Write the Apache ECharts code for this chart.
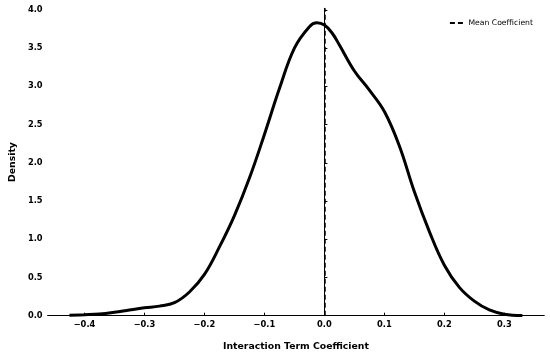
<!DOCTYPE html>
<html><head><meta charset="utf-8">
<script src="https://cdn.jsdelivr.net/npm/echarts@6/dist/echarts.min.js"></script>
<style>html,body{margin:0;padding:0;background:#fff}#c{width:550px;height:356px}</style>
</head><body><div id="c"></div>
<script>
const kdeX = [-0.425,-0.40,-0.375,-0.35,-0.325,-0.30,-0.275,-0.25,-0.225,-0.20,-0.175,-0.15,-0.125,-0.10,-0.075,-0.05,-0.025,-0.0125,0.0,0.0125,0.025,0.05,0.075,0.10,0.125,0.15,0.175,0.20,0.225,0.25,0.275,0.30,0.33];
const kdeY = [0.005,0.012,0.022,0.045,0.075,0.103,0.125,0.17,0.31,0.54,0.90,1.31,1.80,2.37,2.97,3.50,3.78,3.83,3.80,3.70,3.54,3.20,2.95,2.67,2.22,1.62,1.10,0.66,0.37,0.19,0.075,0.02,0.003];
const meanCoef = 0.001;
const xTicks = [-0.4,-0.3,-0.2,-0.1,0.0,0.1,0.2,0.3];
const yTicks = [0.0,0.5,1.0,1.5,2.0,2.5,3.0,3.5,4.0];
const xRange = [-0.4615, 0.3666];
const yRange = [0, 4.02];

const chart = echarts.init(document.getElementById('c'));
const font = 'DejaVu Sans';
chart.setOption({
  animation: false,
  grid: {left: 43.3, right: 5.7, top: 8.3, bottom: 40.3},
  legend: {
    right: 12, top: 14,
    icon: 'path://M0,0h5v2h-5z M8,0h5v2h-5z',
    itemWidth: 14, itemHeight: 2, itemGap: 8,
    textStyle: {fontFamily: font, fontSize: 7.7, color: '#000'},
    data: [{name: 'Mean Coefficient'}]
  },
  xAxis: {
    type: 'value', min: xRange[0], max: xRange[1],
    name: 'Interaction Term Coefficient', nameLocation: 'middle', nameGap: 26,
    nameTextStyle: {fontFamily: font, fontSize: 9.3, fontWeight: 'bold', color: '#000'},
    splitLine: {show: false},
    axisLine: {onZero: false, lineStyle: {color: '#000', width: 1}},
    axisTick: {inside: true, length: 3, lineStyle: {color: '#000'}, customValues: xTicks},
    axisLabel: {fontFamily: font, fontSize: 8.3, fontWeight: 'bold', color: '#000', margin: 5,
      customValues: xTicks,
      formatter: v => (v < 0 ? '\u2212' : '') + Math.abs(v).toFixed(1)}
  },
  yAxis: {
    type: 'value', min: yRange[0], max: yRange[1],
    name: 'Density', nameLocation: 'middle', nameGap: 30,
    nameTextStyle: {fontFamily: font, fontSize: 9.3, fontWeight: 'bold', color: '#000'},
    splitLine: {show: false},
    axisLine: {show: true, lineStyle: {color: '#000', width: 1}},
    axisTick: {show: true, inside: true, length: 3, lineStyle: {color: '#000'}, customValues: yTicks},
    axisLabel: {fontFamily: font, fontSize: 8.3, fontWeight: 'bold', color: '#000', margin: 5,
      customValues: yTicks, formatter: v => v.toFixed(1)}
  },
  series: [
    {
      type: 'line', name: 'KDE', smooth: 0.4, symbol: 'none',
      data: kdeX.map((x, i) => [x, kdeY[i]]),
      lineStyle: {color: '#000', width: 3}, z: 3
    },
    {
      type: 'line', name: 'Mean Coefficient', symbol: 'none',
      data: [[meanCoef, yRange[0]], [meanCoef, yRange[1]]],
      lineStyle: {color: '#000', width: 1.5, type: [5, 3]},
      itemStyle: {color: '#000'}, z: 4
    }
  ]
});
</script></body></html>
